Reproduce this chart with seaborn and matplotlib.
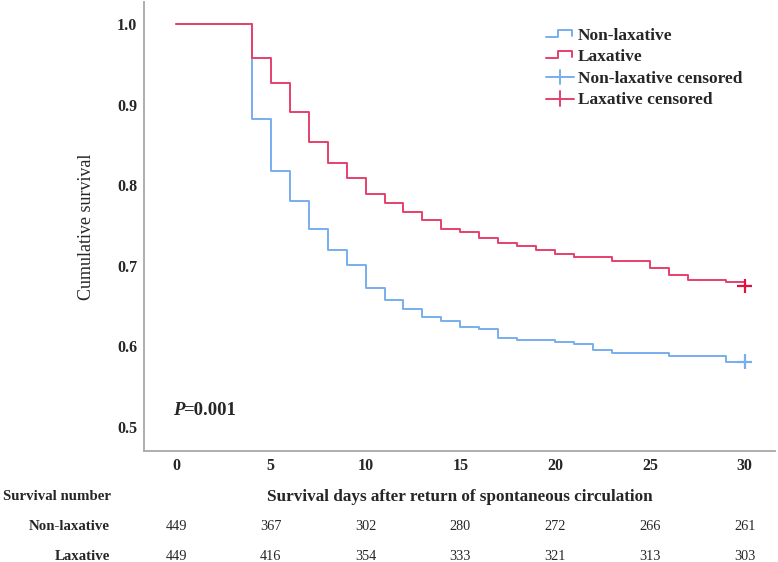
import seaborn as sns
import matplotlib.pyplot as plt
import pandas as pd
from matplotlib.lines import Line2D
from matplotlib.legend_handler import HandlerBase

# Kaplan-Meier step values
nonlax_days = [0, 4, 5, 6, 7, 8, 9, 10, 11, 12, 13, 14, 15, 16, 17, 18, 20, 21, 22, 23, 26, 29, 30]
nonlax_surv = [1.0, 0.882, 0.818, 0.780, 0.746, 0.720, 0.701, 0.672, 0.657, 0.646, 0.637, 0.631,
               0.624, 0.621, 0.610, 0.608, 0.606, 0.603, 0.595, 0.592, 0.588, 0.581, 0.581]
lax_days = [0, 4, 5, 6, 7, 8, 9, 10, 11, 12, 13, 14, 15, 16, 17, 18, 19, 20, 21, 23, 25, 26, 27, 29, 30]
lax_surv = [1.0, 0.958, 0.927, 0.891, 0.853, 0.828, 0.809, 0.789, 0.778, 0.767, 0.757, 0.746,
            0.742, 0.735, 0.728, 0.724, 0.719, 0.715, 0.711, 0.706, 0.697, 0.689, 0.683, 0.680, 0.675]

groups = ["Non-laxative", "Laxative"]
censor_day = [30, 30]
censor_surv = [0.581, 0.675]

# numbers at risk
risk_days = [0, 5, 10, 15, 20, 25, 30]
risk_nonlax = [449, 367, 302, 280, 272, 266, 261]
risk_lax = [449, 416, 354, 333, 321, 313, 303]

blue = "#78AEEF"
red = "#E5406A"
palette = {"Non-laxative": blue, "Laxative": red}

df = pd.concat([
    pd.DataFrame({"day": nonlax_days, "surv": nonlax_surv, "group": "Non-laxative"}),
    pd.DataFrame({"day": lax_days, "surv": lax_surv, "group": "Laxative"}),
])
cens = pd.DataFrame({"day": censor_day, "surv": censor_surv, "group": groups})

sns.set_style("white")
plt.rcParams["font.family"] = ["Liberation Serif", "DejaVu Serif"]

fig = plt.figure(figsize=(7.78, 5.62), dpi=100)
ax = fig.add_axes([144 / 778, 111.3 / 562, 631 / 778, 448.7 / 562])

sns.lineplot(data=df, x="day", y="surv", hue="group", palette=palette, estimator=None,
             drawstyle="steps-post", linewidth=1.4, legend=False, ax=ax)
sns.scatterplot(data=cens, x="day", y="surv", hue="group", palette={"Non-laxative": blue, "Laxative": "#E01040"},
                marker="+", s=110, linewidth=1.6, legend=False, ax=ax, zorder=5)

ax.set_xlim(-1.69, 31.6)
ax.set_ylim(0.4706, 1.0273)
ax.set_xticks(risk_days)
ax.set_yticks([0.5, 0.6, 0.7, 0.8, 0.9, 1.0])
ax.set_yticklabels(["0.5", "0.6", "0.7", "0.8", "0.9", "1.0"])
ax.tick_params(length=0, labelsize=11.5, pad=5)
for lab in ax.get_xticklabels() + ax.get_yticklabels():
    lab.set_fontweight("bold")

for side in ["top", "right"]:
    ax.spines[side].set_visible(False)
for side in ["left", "bottom"]:
    ax.spines[side].set_color("#A8A8A8")
    ax.spines[side].set_linewidth(1.3)

ax.set_ylabel("Cumulative survival", fontsize=13)
ax.yaxis.set_label_coords(-0.078, 0.5)
ax.set_xlabel("Survival days after return of spontaneous circulation", fontsize=12.3, fontweight="bold")
ax.xaxis.set_label_coords(0.5, -0.103)
ax.xaxis.label.set_va("center")

# log-rank p value
ax.text(-0.16, 0.52, "P", fontsize=13.5, fontweight="bold", fontstyle="italic", va="center", ha="left")
ax.annotate("=0.001", xy=(-0.16, 0.52), xytext=(10, 0), textcoords="offset pixels",
            fontsize=13.5, fontweight="bold", va="center", ha="left")

# table of numbers at risk below the axis
tr = ax.get_xaxis_transform()
ax.text(-0.2235, -0.103, "Survival number", transform=ax.transAxes, fontsize=10.7,
        fontweight="bold", ha="left", va="center")
for label, counts, yy in [("Non-laxative", risk_nonlax, -0.170), ("Laxative", risk_lax, -0.235)]:
    ax.text(-0.054, yy, label, transform=ax.transAxes, fontsize=10.7, fontweight="bold",
            ha="right", va="center")
    for d, n in zip(risk_days, counts):
        ax.text(d, yy, str(n), transform=tr, fontsize=10.3, ha="center", va="center", clip_on=False)


class StepHandler(HandlerBase):
    def create_artists(self, legend, orig_handle, xdescent, ydescent, width, height, fontsize, trans):
        x0, w, h = -xdescent, width, height
        xs = [x0, x0 + 0.45 * w, x0 + 0.45 * w, x0 + 0.95 * w, x0 + 0.95 * w]
        ys = [0.25 * h, 0.25 * h, 0.85 * h, 0.85 * h, 0.35 * h]
        line = Line2D(xs, ys, color=orig_handle.get_color(), lw=1.4)
        line.set_transform(trans)
        return [line]


class CrossHandler(HandlerBase):
    def create_artists(self, legend, orig_handle, xdescent, ydescent, width, height, fontsize, trans):
        x0, w, h = -xdescent, width, height
        hl = Line2D([x0, x0 + w], [0.45 * h, 0.45 * h], color=orig_handle.get_color(), lw=1.4)
        vl = Line2D([x0 + 0.5 * w, x0 + 0.5 * w], [-0.15 * h, 1.05 * h], color=orig_handle.get_color(), lw=1.4)
        hl.set_transform(trans)
        vl.set_transform(trans)
        return [hl, vl]


h_blue = Line2D([], [], color=blue)
h_red = Line2D([], [], color=red)
c_blue = Line2D([], [], color=blue)
c_red = Line2D([], [], color=red)
leg = ax.legend([h_blue, h_red, c_blue, c_red],
                ["Non-laxative", "Laxative", "Non-laxative censored", "Laxative censored"],
                handler_map={h_blue: StepHandler(), h_red: StepHandler(),
                             c_blue: CrossHandler(), c_red: CrossHandler()},
                loc="upper left", bbox_to_anchor=(0.626, 0.958), frameon=False,
                prop={"size": 12.5, "weight": "bold"}, handlelength=1.6, handletextpad=0.25,
                labelspacing=0.3, borderaxespad=0)

fig.savefig("out.png", dpi=100)
